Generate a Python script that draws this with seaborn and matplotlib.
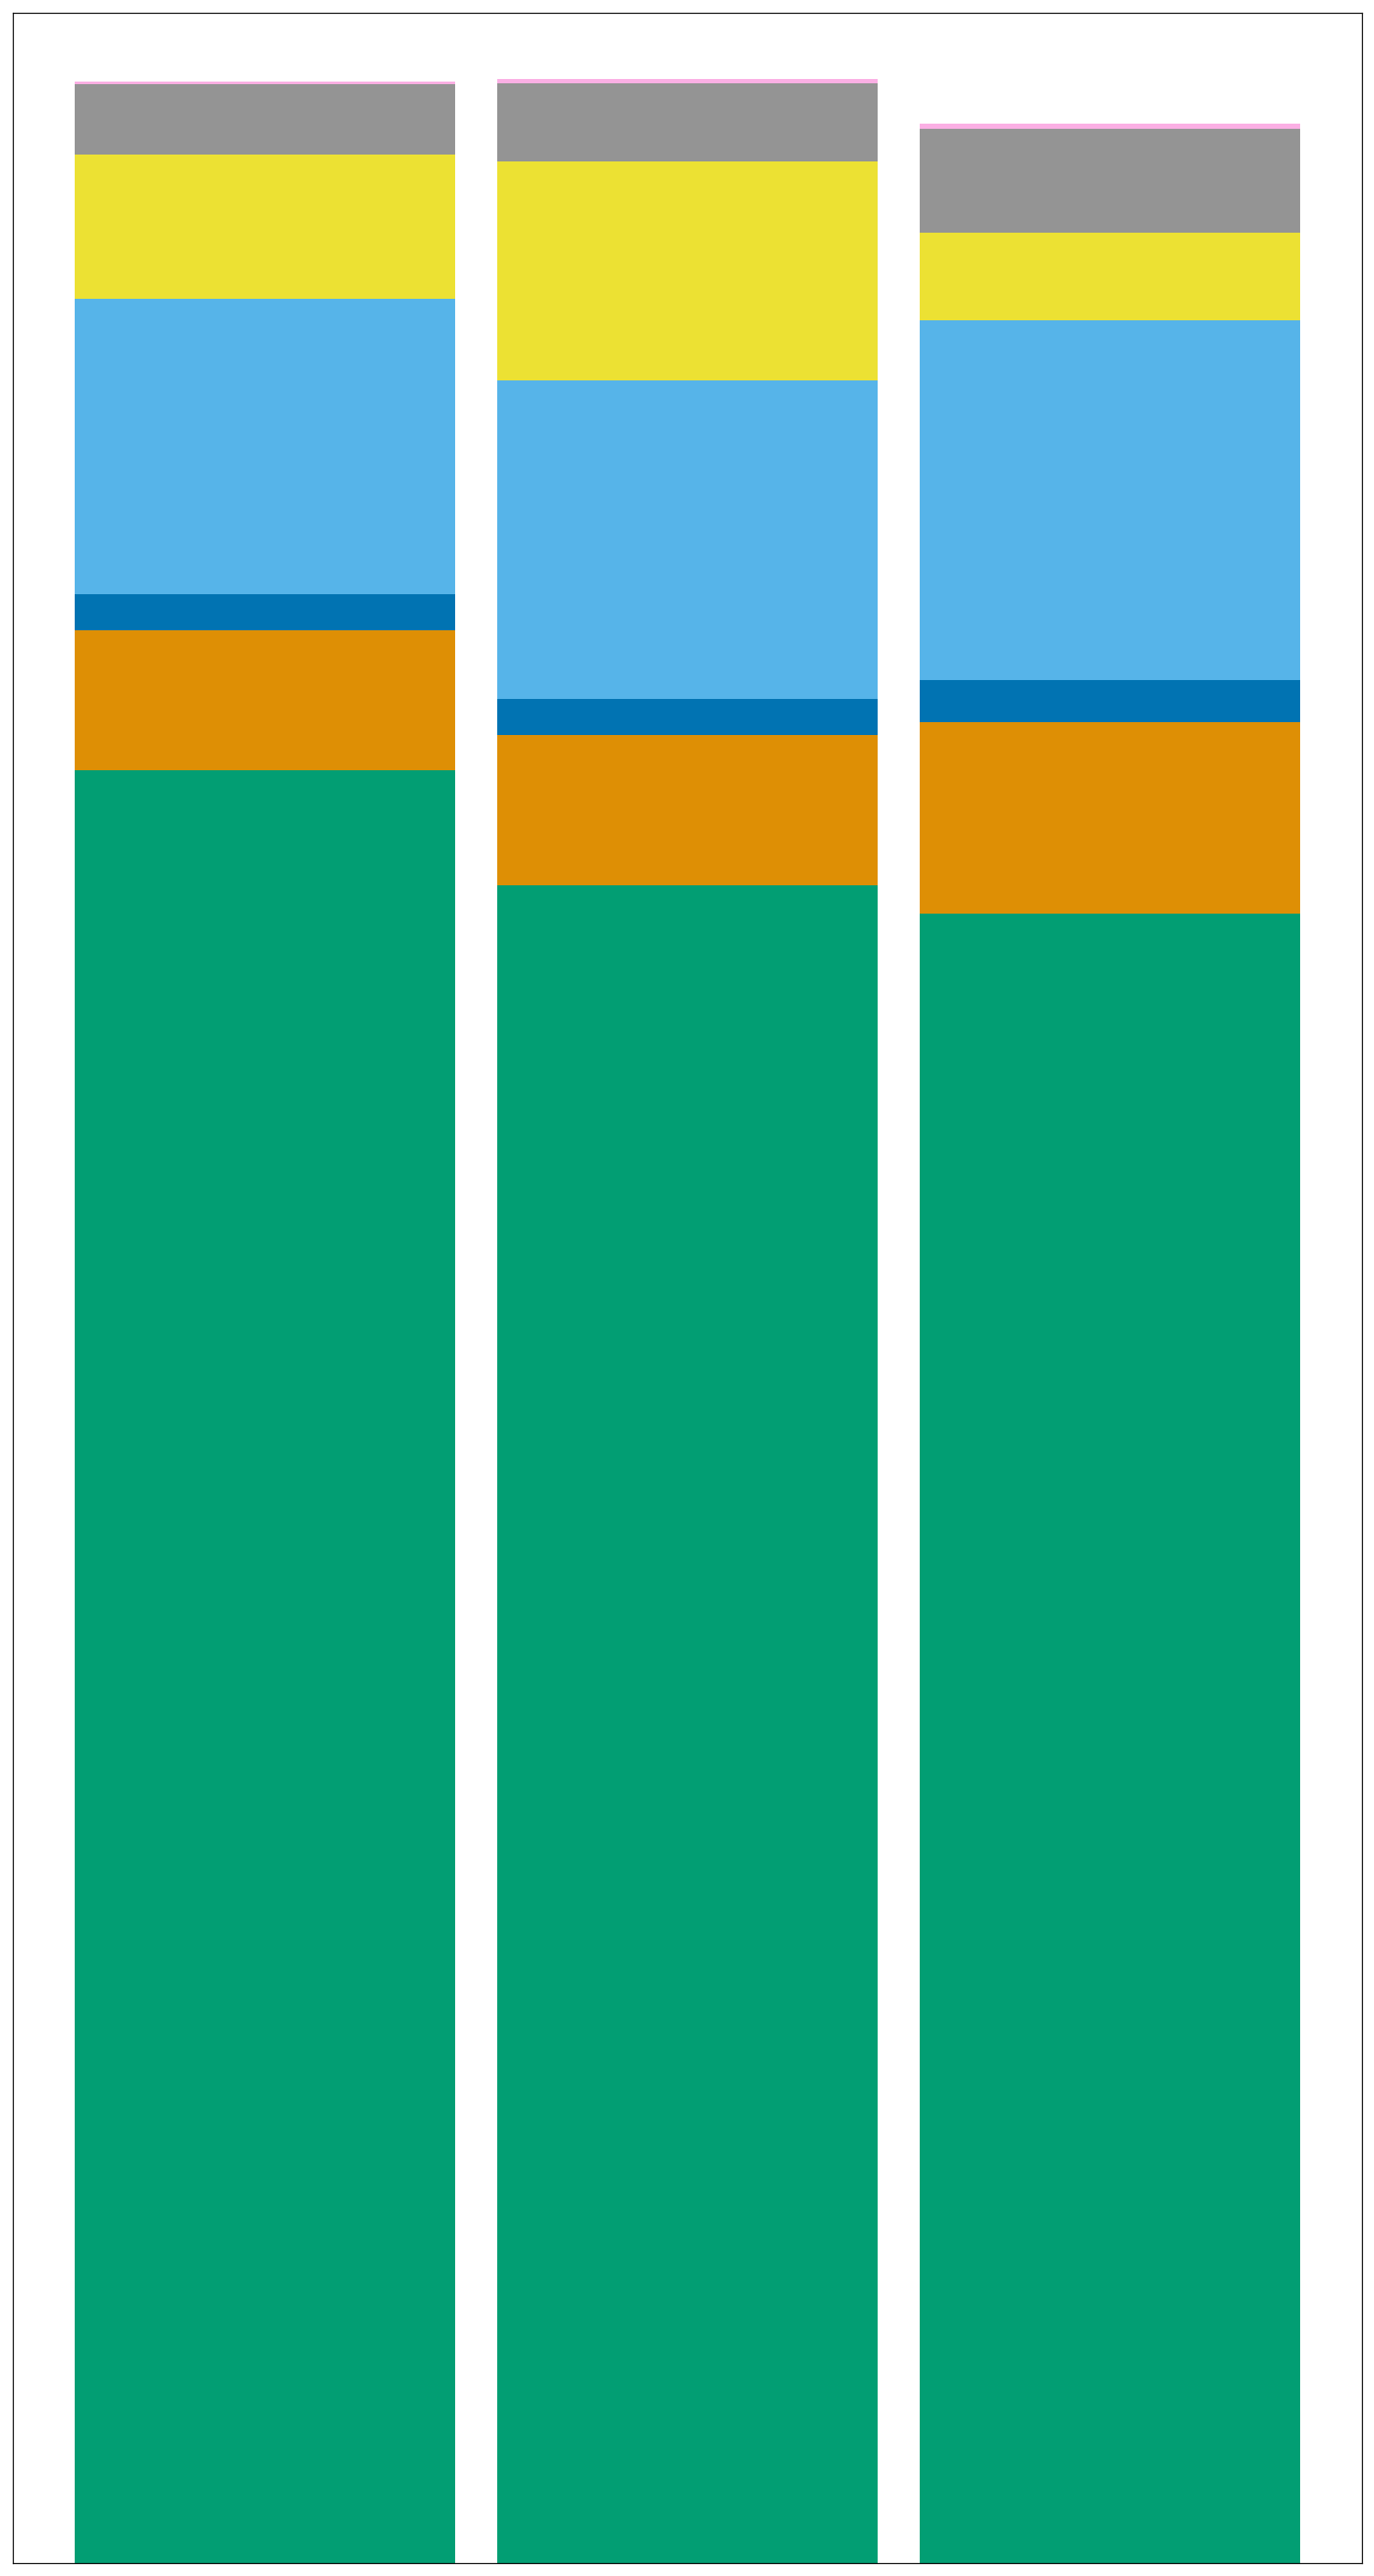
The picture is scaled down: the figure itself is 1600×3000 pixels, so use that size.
import numpy as np
import pandas as pd
import matplotlib
matplotlib.use("Agg")
import matplotlib.pyplot as plt
import seaborn as sns

# Data (bottom-to-top stacking order)
categories = ["A", "B", "C"]
green_vals = [70.3, 65.8, 64.7]
orange_vals = [5.5, 5.9, 7.5]
darkblue_vals = [1.4, 1.4, 1.65]
lightblue_vals = [11.6, 12.5, 14.1]
yellow_vals = [5.65, 8.6, 3.45]
gray_vals = [2.75, 3.05, 4.07]
pink_vals = [0.12, 0.17, 0.2]

layers = [green_vals, orange_vals, darkblue_vals, lightblue_vals,
          yellow_vals, gray_vals, pink_vals]
colors = ["#029e73", "#de8f05", "#0173b2", "#56b4e9",
          "#ece133", "#949494", "#fbafe4"]

sns.set_style("white")

fig = plt.figure(figsize=(16, 30), dpi=100)
ax = fig.add_axes([15.3 / 1600, 15 / 3000, (1585.5 - 15.3) / 1600, (2985 - 15.3) / 3000])

cum = np.cumsum(np.array(layers, dtype=float), axis=0)

# draw from top cumulative down so lower layers overlay
for i in range(len(layers) - 1, -1, -1):
    df = pd.DataFrame({"cat": categories, "val": cum[i]})
    sns.barplot(data=df, x="cat", y="val", color=colors[i], saturation=1,
                width=0.9, linewidth=0, errorbar=None, ax=ax)

ax.set_xlim(-0.595, 2.595)
ax.set_ylim(0, 100)
ax.set_xticks([])
ax.set_yticks([])
ax.set_xlabel("")
ax.set_ylabel("")
for s in ax.spines.values():
    s.set_visible(True)
    s.set_color("black")
    s.set_linewidth(0.9)

fig.savefig("out.png", dpi=100, facecolor="white")
